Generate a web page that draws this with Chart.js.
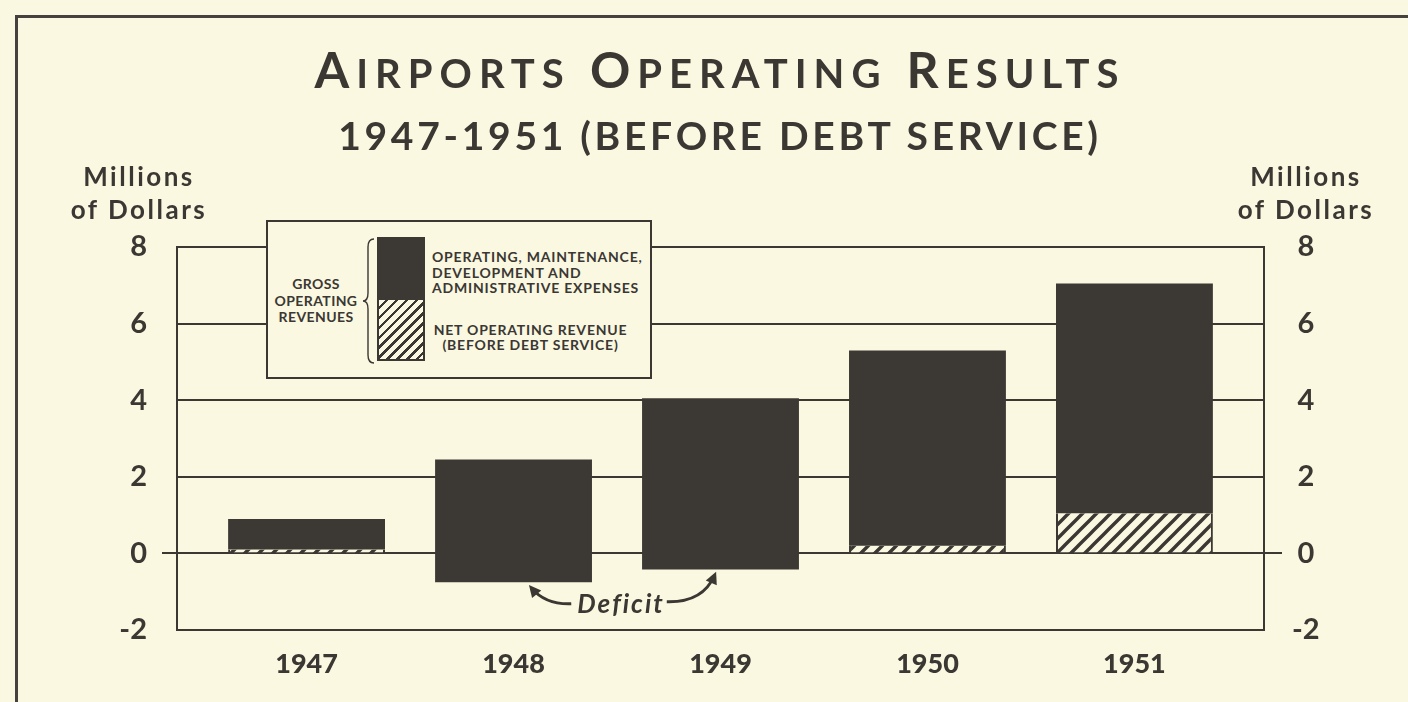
<!DOCTYPE html>
<html>
<head>
<meta charset="utf-8">
<title>Airports Operating Results</title>
<script src="https://cdn.jsdelivr.net/npm/chart.js@4.4.1/dist/chart.umd.min.js"></script>
<style>
  body {
    margin: 0;
    width: 1408px;
    height: 702px;
    overflow: hidden;
    position: relative;
    background: #faf8e1;
    color: #3b3733;
    font-family: Lato, "Open Sans", sans-serif;
    font-weight: 700;
  }
  #frame {
    position: absolute;
    left: 15px; top: 15px; right: -10px; bottom: -10px;
    border-top: 3px solid #46413c;
    border-left: 3px solid #46413c;
  }
  #chart { position: absolute; left: 0; top: 0; }
  .heading {
    position: absolute;
    left: 720px;
    transform: translateX(-50%);
    white-space: nowrap;
    line-height: 1;
  }
  #title { top: 44px; font-size: 50px; letter-spacing: 7px; }
  #title .sc { font-size: 40px; }
  #subtitle { top: 116px; font-size: 39px; letter-spacing: 3.7px; }
  .unit {
    position: absolute;
    top: 160px;
    width: 200px;
    text-align: center;
    font-size: 26px;
    line-height: 33px;
    letter-spacing: 2.5px;
  }
  #legend {
    position: absolute;
    left: 266px; top: 220px;
    width: 382px; height: 155px;
    border: 2px solid #3b3733;
    background: #faf8e1;
    font-size: 14px;
    letter-spacing: 0.8px;
  }
  #legend .txt { position: absolute; line-height: 16px; white-space: nowrap; }
  #gross { left: 0; top: 54px; width: 96px; text-align: center; letter-spacing: 0.4px; line-height: 16.5px !important; }
  #expLabel { left: 164px; top: 27px; line-height: 15.5px !important; }
  #netLabel { left: 160px; top: 100px; width: 205px; text-align: center; line-height: 15px !important; }
  #brace { position: absolute; left: 94px; top: 16px; }
  #swatch { position: absolute; left: 109px; top: 15px; width: 48px; }
  #swatch .exp { height: 63px; background: #3c3834; }
  #swatch .net {
    box-sizing: border-box;
    height: 61px;
    border: 2px solid #3b3733;
    border-top: 0;
    background: repeating-linear-gradient(135deg, #faf8e1 0 4.5px, #3b3733 4.5px 7px);
  }
</style>
</head>
<body>
<div id="frame"></div>
<canvas id="chart" width="1408" height="702"></canvas>

<div id="title" class="heading">A<span class="sc">IRPORTS</span> O<span class="sc">PERATING</span> R<span class="sc">ESULTS</span></div>
<div id="subtitle" class="heading">1947-1951 (BEFORE DEBT SERVICE)</div>

<div class="unit" style="left:39px">Millions<br>of Dollars</div>
<div class="unit" style="left:1206px">Millions<br>of Dollars</div>

<div id="legend">
  <div id="gross" class="txt">GROSS<br>OPERATING<br>REVENUES</div>
  <svg id="brace" width="14" height="126">
    <path d="M12,1 Q6,1 6,9 L6,55 Q6,63 1,63 Q6,63 6,71 L6,117 Q6,125 12,125"
          fill="none" stroke="#3b3733" stroke-width="1.4"/>
  </svg>
  <div id="swatch"><div class="exp"></div><div class="net"></div></div>
  <div id="expLabel" class="txt">OPERATING, MAINTENANCE,<br>DEVELOPMENT AND<br>ADMINISTRATIVE EXPENSES</div>
  <div id="netLabel" class="txt">NET OPERATING REVENUE<br>(BEFORE DEBT SERVICE)</div>
</div>

<script>
const years = ["1947", "1948", "1949", "1950", "1951"];
// gross operating revenues, millions of dollars (top of each bar)
const grossRevenue = [0.9, 2.45, 4.05, 5.3, 7.05];
// net operating revenue before debt service, negative = deficit
const netRevenue = [0.1, -0.75, -0.42, 0.2, 1.05];
const yTicks = [-2, 0, 2, 4, 6, 8];

const ink = "#3b3733";
const barInk = "#3c3834";
const paper = "#faf8e1";
const clear = "rgba(0,0,0,0)";

// diagonal hatching for the net revenue part of the bars
function makeHatch() {
  const s = 14;
  const c = document.createElement("canvas");
  c.width = s;
  c.height = s;
  const g = c.getContext("2d");
  g.fillStyle = paper;
  g.fillRect(0, 0, s, s);
  g.strokeStyle = ink;
  g.lineWidth = 3.4;
  g.beginPath();
  g.moveTo(-s, s); g.lineTo(s, -s);
  g.moveTo(0, s * 2); g.lineTo(s * 2, 0);
  g.moveTo(0, s); g.lineTo(s, 0);
  g.stroke();
  return g.createPattern(c, "repeat");
}

// expenses run from the net figure up to gross revenue
const expenseBars = years.map((_, i) => ({ x: i, y: [netRevenue[i], grossRevenue[i]] }));
const netBars = years
  .map((_, i) => ({ x: i, y: [0, netRevenue[i]] }))
  .filter(d => d.y[1] > 0);

const tickFont = { family: "Lato", size: 29, weight: "700" };

// "Deficit" note with two curved arrows to the bars that dip below zero
const deficitNote = {
  id: "deficitNote",
  afterDatasetsDraw(chart) {
    const { ctx } = chart;
    const xs = chart.scales.x;
    const ys = chart.scales.y;
    const idx = netRevenue.map((v, i) => (v < 0 ? i : -1)).filter(i => i >= 0);
    const tx = xs.getPixelForValue((idx[0] + idx[1]) / 2) + 4;
    const ty = ys.getPixelForValue(-1.55);

    ctx.save();
    ctx.font = "italic 700 26px Lato";
    ctx.letterSpacing = "2px";
    ctx.textAlign = "center";
    ctx.fillStyle = ink;
    ctx.fillText("Deficit", tx, ty);
    const w = ctx.measureText("Deficit").width;

    function arrow(x0, y0, cx, cy, x1, y1) {
      ctx.strokeStyle = ink;
      ctx.lineWidth = 3;
      ctx.beginPath();
      ctx.moveTo(x0, y0);
      ctx.quadraticCurveTo(cx, cy, x1, y1);
      ctx.stroke();
      const a = Math.atan2(y1 - cy, x1 - cx);
      const len = 12, half = 6;
      const hx = x1 + Math.cos(a) * 4, hy = y1 + Math.sin(a) * 4;
      ctx.beginPath();
      ctx.moveTo(hx, hy);
      ctx.lineTo(hx - Math.cos(a) * len - Math.sin(a) * half, hy - Math.sin(a) * len + Math.cos(a) * half);
      ctx.lineTo(hx - Math.cos(a) * len + Math.sin(a) * half, hy - Math.sin(a) * len - Math.cos(a) * half);
      ctx.closePath();
      ctx.fillStyle = ink;
      ctx.fill();
    }

    const lx = xs.getPixelForValue(idx[0]) + 18;
    const ly = ys.getPixelForValue(netRevenue[idx[0]]) + 6;
    arrow(tx - w / 2 - 6, ty - 9, lx + 14, ty - 8, lx, ly);

    const rx = xs.getPixelForValue(idx[1]) - 6;
    const ry = ys.getPixelForValue(netRevenue[idx[1]]) + 6;
    arrow(tx + w / 2 + 2, ty - 11, rx - 12, ty - 10, rx, ry);
    ctx.restore();
  }
};

new Chart(document.getElementById("chart"), {
  type: "bar",
  data: {
    datasets: [
      {
        label: "Operating, maintenance, development and administrative expenses",
        data: expenseBars,
        backgroundColor: barInk,
        borderWidth: 0,
        categoryPercentage: 1,
        barPercentage: 0.758
      },
      {
        label: "Net operating revenue (before debt service)",
        data: netBars,
        backgroundColor: makeHatch(),
        borderColor: ink,
        borderWidth: { left: 2, right: 2, top: 0, bottom: 0 },
        borderSkipped: false,
        categoryPercentage: 1,
        barPercentage: 0.758
      }
    ]
  },
  options: {
    responsive: false,
    animation: false,
    layout: { padding: { top: 247, left: 0, right: 0, bottom: 0 } },
    plugins: {
      legend: { display: false },
      tooltip: { enabled: false }
    },
    scales: {
      x: {
        type: "linear",
        stacked: true,
        offset: false,
        min: -0.626,
        max: 4.626,
        afterBuildTicks: s => { s.ticks = years.map((_, i) => ({ value: i })); },
        afterFit: s => { s.height = 72; },
        grid: { display: false, drawTicks: false },
        border: { display: true, color: ink, width: 2 },
        ticks: {
          callback: v => years[v],
          padding: 18,
          maxRotation: 0,
          autoSkip: false,
          color: ink,
          font: { family: "Lato", size: 27, weight: "900" }
        }
      },
      y: {
        position: "left",
        min: -2,
        max: 8,
        afterBuildTicks: s => { s.ticks = yTicks.map(v => ({ value: v })); },
        afterFit: s => { s.width = 177; },
        grid: {
          color: ink,
          lineWidth: 2,
          drawTicks: true,
          tickLength: 15,
          tickColor: c => (c.tick && c.tick.value === 0 ? ink : clear)
        },
        border: { display: true, color: ink, width: 2 },
        ticks: { padding: 15, color: ink, font: tickFont }
      },
      y2: {
        position: "right",
        min: -2,
        max: 8,
        afterBuildTicks: s => { s.ticks = yTicks.map(v => ({ value: v })); },
        afterFit: s => { s.width = 144; },
        grid: {
          drawOnChartArea: false,
          lineWidth: 2,
          drawTicks: true,
          tickLength: 18,
          tickColor: c => (c.tick && c.tick.value === 0 ? ink : clear)
        },
        border: { display: true, color: ink, width: 2 },
        ticks: { padding: 10, crossAlign: "center", color: ink, font: tickFont }
      }
    }
  },
  plugins: [deficitNote]
});
</script>
</body>
</html>
